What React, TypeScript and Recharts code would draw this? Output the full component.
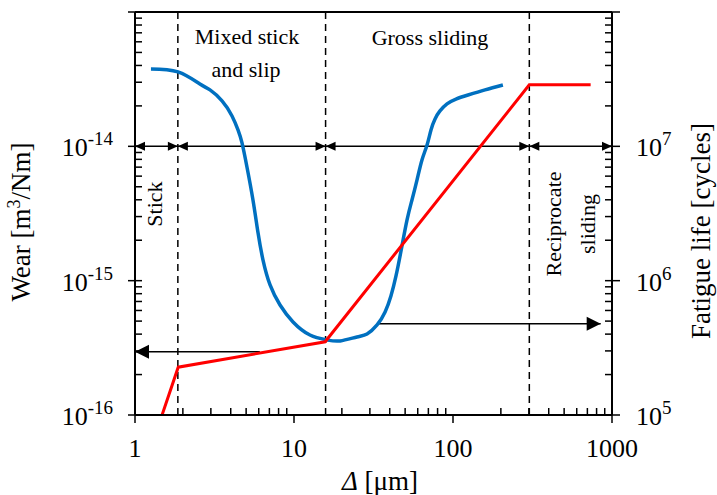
import { LineChart, Line, XAxis, YAxis, ReferenceLine } from "recharts";

// slip amplitude (um) vs wear rate, blue curve
const deltaWear = [
  1.26, 1.864, 2.56, 2.963, 3.526, 4.075, 4.444, 4.71, 5.06, 5.52, 5.94, 6.38,
  7.07, 8.17, 9.86, 12.6, 16.1, 19.5, 24.9, 28.8, 33.3, 37.4, 40.7, 43.8, 47.1,
  51.4, 55.2, 59.4, 63.8, 68.6, 72.7, 77.1, 82.8, 91.7, 104.4, 124.3, 159, 206,
];
const wearRate = [
  3.77e-14, 3.58e-14, 2.91e-14, 2.63e-14, 2.18e-14, 1.684e-14, 1.325e-14,
  1.06e-14, 7.02e-15, 3.99e-15, 2.27e-15, 1.43e-15, 9.29e-16, 6.59e-16,
  4.93e-16, 3.94e-16, 3.62e-16, 3.56e-16, 3.81e-16, 4.01e-16, 4.68e-16,
  5.85e-16, 7.69e-16, 1.084e-15, 1.664e-15, 2.83e-15, 3.99e-15, 5.62e-15,
  7.92e-15, 1.02e-14, 1.325e-14, 1.6e-14, 1.834e-14, 2.07e-14, 2.25e-14,
  2.41e-14, 2.63e-14, 2.86e-14,
];

// slip amplitude vs fatigue life, red curve
const deltaLife = [1.48, 1.87, 15.7, 302, 734];
const fatigueLife = [1e5, 2.27e5, 3.51e5, 2.87e7, 2.87e7];

// regime boundaries (dashed lines) and arrow rows
const regimeEdges = [1, 1.86, 15.8, 302, 1000];
const regimeBounds = [1.86, 15.8, 302];
const regimeArrowWear = 1e-14;
const lowArrow = { from: 6.1, to: 1, wear: 2.96e-16 };
const highArrow = { from: 33.3, to: 849, wear: 4.77e-16 };

const xMajor = [1, 10, 100, 1000];
const xLabels = ["1", "10", "100", "1000"];
const wearMajor = [1e-16, 1e-15, 1e-14, 1e-13];
const wearLabels = ["-16", "-15", "-14", ""];
const lifeMajor = [1e5, 1e6, 1e7, 1e8];
const lifeLabels = ["5", "6", "7", ""];

const minors = [2, 3, 4, 5, 6, 7, 8, 9];
const withMinors = (major: number[]) => {
  const out: number[] = [];
  major.forEach((m, i) => {
    out.push(m);
    if (i < major.length - 1) minors.forEach((k) => out.push(k * m));
  });
  return out;
};

const FONT = "'Liberation Serif', 'Times New Roman', Times, serif";
const txt = { fontFamily: FONT };

const blueData = deltaWear.map((x, i) => ({ x, wear: wearRate[i] }));
const redData = deltaLife.map((x, i) => ({ x, life: fatigueLife[i] }));

const majorIndex = (list: number[], v: number) =>
  list.findIndex((m) => Math.abs(v - m) / m < 1e-6);

function LeftTick(props: any) {
  const { x, y, payload } = props;
  const i = majorIndex(wearMajor, payload.value);
  return (
    <g>
      <line x1={i >= 0 ? x - 7 : x} x2={x + 7} y1={y} y2={y} stroke="#000" strokeWidth={1.5} />
      {i >= 0 && wearLabels[i] && (
        <text x={x - 22} y={y + 10} textAnchor="end" fontSize={26} style={txt} fill="#000">
          10
          <tspan dy={-11} fontSize={19}>
            {wearLabels[i]}
          </tspan>
        </text>
      )}
    </g>
  );
}

function RightTick(props: any) {
  const { x, y, payload } = props;
  const i = majorIndex(lifeMajor, payload.value);
  return (
    <g>
      <line x1={x - 7} x2={i >= 0 ? x + 8 : x} y1={y} y2={y} stroke="#000" strokeWidth={1.5} />
      {i >= 0 && lifeLabels[i] && (
        <text x={x + 24} y={y + 10} textAnchor="start" fontSize={26} style={txt} fill="#000">
          10
          <tspan dy={-11} fontSize={19}>
            {lifeLabels[i]}
          </tspan>
        </text>
      )}
    </g>
  );
}

function BottomTick(props: any) {
  const { x, y, payload } = props;
  const i = majorIndex(xMajor, payload.value);
  return (
    <g>
      <line x1={x} x2={x} y1={i >= 0 ? y : y - 7} y2={i >= 0 ? y + 8 : y} stroke="#000" strokeWidth={1.5} />
      {i >= 0 && (
        <text x={x} y={y + 42} textAnchor="middle" fontSize={26} style={txt} fill="#000">
          {xLabels[i]}
        </text>
      )}
    </g>
  );
}

function makeArrow(headLen: number, headHalf: number, both: boolean) {
  return (p: any) => {
    const { x1, y1, x2, y2 } = p;
    const len = Math.hypot(x2 - x1, y2 - y1) || 1;
    const ux = (x2 - x1) / len;
    const uy = (y2 - y1) / len;
    const head = (tx: number, ty: number, dx: number, dy: number) => {
      const bx = tx - dx * headLen;
      const by = ty - dy * headLen;
      return `${tx},${ty} ${bx - dy * headHalf},${by + dx * headHalf} ${bx + dy * headHalf},${by - dx * headHalf}`;
    };
    return (
      <g>
        <line x1={x1} y1={y1} x2={x2} y2={y2} stroke="#000" strokeWidth={1.5} />
        <polygon points={head(x2, y2, ux, uy)} fill="#000" />
        {both && <polygon points={head(x1, y1, -ux, -uy)} fill="#000" />}
      </g>
    );
  };
}

const smallArrow = makeArrow(10, 4.5, true);
const bigArrow = makeArrow(14, 7, false);

export default function App() {
  return (
    <div style={{ position: "absolute", left: 0, top: 0, width: 717, height: 495, background: "#fff", fontFamily: FONT }}>
      <LineChart width={717} height={495} margin={{ top: 12, right: 0, bottom: 0, left: 0 }}>
        <XAxis
          dataKey="x"
          type="number"
          scale="log"
          domain={[1, 1000]}
          allowDataOverflow
          ticks={withMinors(xMajor)}
          interval={0}
          tickLine={false}
          tickSize={0}
          tickMargin={0}
          tick={(p: any) => <BottomTick {...p} />}
          height={80}
          axisLine={{ stroke: "#000", strokeWidth: 2 }}
        />
        <YAxis
          yAxisId="left"
          type="number"
          scale="log"
          domain={[1e-16, 1e-13]}
          allowDataOverflow
          ticks={withMinors(wearMajor)}
          interval={0}
          tickLine={false}
          tickSize={0}
          tickMargin={0}
          tick={(p: any) => <LeftTick {...p} />}
          width={135}
          axisLine={{ stroke: "#000", strokeWidth: 2 }}
        />
        <YAxis
          yAxisId="right"
          orientation="right"
          type="number"
          scale="log"
          domain={[1e5, 1e8]}
          allowDataOverflow
          ticks={withMinors(lifeMajor)}
          interval={0}
          tickLine={false}
          tickSize={0}
          tickMargin={0}
          tick={(p: any) => <RightTick {...p} />}
          width={105}
          axisLine={{ stroke: "#000", strokeWidth: 2 }}
        />
        <ReferenceLine yAxisId="left" y={1e-13} stroke="#000" strokeWidth={2} ifOverflow="visible" />
        {regimeBounds.map((b) => (
          <ReferenceLine
            key={b}
            yAxisId="left"
            x={b}
            stroke="#000"
            strokeWidth={1.5}
            strokeDasharray="7 5"
            ifOverflow="visible"
          />
        ))}
        {regimeEdges.slice(0, -1).map((a, i) => (
          <ReferenceLine
            key={"seg" + i}
            yAxisId="left"
            ifOverflow="visible"
            segment={[
              { x: a, y: regimeArrowWear },
              { x: regimeEdges[i + 1], y: regimeArrowWear },
            ]}
            shape={smallArrow}
          />
        ))}
        {[lowArrow, highArrow].map((a, i) => (
          <ReferenceLine
            key={"arr" + i}
            yAxisId="left"
            ifOverflow="visible"
            segment={[
              { x: a.from, y: a.wear },
              { x: a.to, y: a.wear },
            ]}
            shape={bigArrow}
          />
        ))}
        <Line
          data={blueData}
          yAxisId="left"
          dataKey="wear"
          type="natural"
          stroke="#0070C0"
          strokeWidth={3.5}
          dot={false}
          activeDot={false}
          isAnimationActive={false}
        />
        <Line
          data={redData}
          yAxisId="right"
          dataKey="life"
          type="linear"
          stroke="#FF0000"
          strokeWidth={3}
          dot={false}
          activeDot={false}
          isAnimationActive={false}
        />
      </LineChart>
      <svg
        width={717}
        height={495}
        style={{ position: "absolute", left: 0, top: 0, pointerEvents: "none", fontFamily: FONT }}
        fill="#000"
      >
        <text x={247} y={44} textAnchor="middle" fontSize={22}>Mixed stick</text>
        <text x={246} y={77} textAnchor="middle" fontSize={22}>and slip</text>
        <text x={430} y={45} textAnchor="middle" fontSize={22}>Gross sliding</text>
        <text x={162} y={204} textAnchor="middle" fontSize={22} transform="rotate(-90 162 204)">Stick</text>
        <text x={561} y={224} textAnchor="middle" fontSize={22} transform="rotate(-90 561 224)">Reciprocate</text>
        <text x={595} y={224} textAnchor="middle" fontSize={22} transform="rotate(-90 595 224)">sliding</text>
        <text x={30} y={222} textAnchor="middle" fontSize={27} transform="rotate(-90 30 222)">
          Wear [m<tspan dy={-10} fontSize={18}>3</tspan>
          <tspan dy={10}>/Nm]</tspan>
        </text>
        <text x={710} y={231} textAnchor="middle" fontSize={27} transform="rotate(-90 710 231)">
          Fatigue life [cycles]
        </text>
        <text x={380} y={490} textAnchor="middle" fontSize={27}>
          <tspan fontStyle="italic">Δ</tspan> [μm]
        </text>
      </svg>
    </div>
  );
}
